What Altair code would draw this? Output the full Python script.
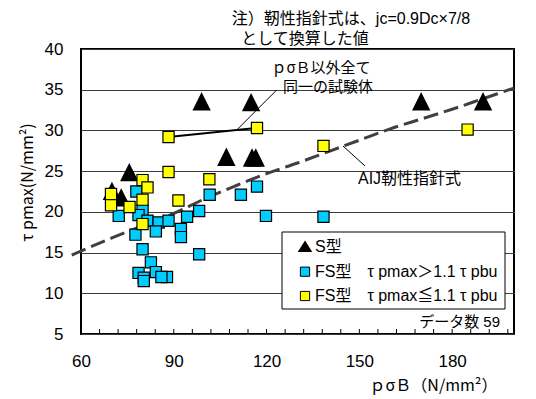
import altair as alt
import pandas as pd

FONT = "Liberation Sans, Noto Sans CJK JP"
FONT_J = "Noto Sans CJK JP, Liberation Sans"

# S型 specimens (black triangles)
s_x = [99.0, 115.0, 107.0, 115.3, 116.5, 170.0, 190.0, 75.6, 70.0, 73.0]
s_y = [33.5, 33.4, 26.7, 26.6, 26.6, 33.5, 33.5, 24.8, 22.5, 21.7]

# FS型, τpmax > 1.1 τpbu (blue squares)
fsb_x = [77.9, 79.9, 72.2, 78.6, 81.5, 85.1, 88.3, 94.3, 98.2, 77.6,
         84.2, 92.3, 92.3, 79.9, 98.2, 82.6, 78.6, 84.2, 80.3, 80.3,
         87.8, 86.0, 101.6, 111.7, 116.9, 138.4, 119.8]
fsb_y = [22.5, 20.2, 19.5, 19.6, 18.9, 18.7, 18.9, 19.4, 20.1, 17.2,
         17.6, 17.9, 16.9, 15.4, 14.8, 13.8, 12.5, 12.6, 11.9, 11.5,
         12.0, 12.0, 22.1, 22.1, 23.1, 19.4, 19.5]

# FS型, τpmax ≤ 1.1 τpbu (yellow squares)
fsy_x = [88.3, 116.9, 88.3, 101.5, 79.9, 81.5, 69.7, 69.7, 79.9, 75.7,
         79.9, 91.5, 138.4, 185.0]
fsy_y = [29.2, 30.3, 24.9, 24.0, 23.9, 23.0, 22.2, 20.8, 21.5, 20.6,
         18.5, 21.4, 28.1, 30.1]

# identical specimens except pσB
pair_x = [88.3, 116.9]
pair_y = [29.2, 30.3]

# AIJ 靭性指針式 curve
aij_x = [57, 70, 80, 90, 100, 110, 120, 130, 140, 150, 160, 170, 180, 190, 200]
aij_y = [14.7, 16.8, 18.3, 19.8, 21.6, 23.2, 24.7, 26.0, 27.4, 28.8, 30.2,
         31.4, 32.6, 33.9, 35.2]

x_labels = [60, 90, 120, 150, 180]
y_labels = [5, 10, 15, 20, 25, 30, 35, 40]
minor_ticks = list(range(66, 200, 6))

legend_labels = ["S型", "FS型　τ pmax＞1.1 τ pbu", "FS型　τ pmax≦1.1 τ pbu"]
note_lines = ["注）靭性指針式は、jc=0.9Dc×7/8", "として換算した値"]
pair_note = ["ｐσＢ以外全て", "同一の試験体"]
aij_note = "AIJ靭性指針式"
count_note = "データ数 59"

W, H = 433, 285
BLUE = "#00CCFF"
YELLOW = "#FFFF00"
TRI = "M0,-1L1,1L-1,1Z"
TRI_SMALL = "M0,-0.8L1,0.8L-1,0.8Z"

X = alt.X("x:Q", scale=alt.Scale(domain=[60, 200], nice=False, zero=False),
          axis=alt.Axis(values=x_labels, grid=False, ticks=False, domain=False,
                        labelFontSize=17, labelFont=FONT, labelColor="black",
                        labelPadding=19, labelFlush=False, labelOverlap=False,
                        title="ｐσＢ（N/mm²）", titleFont=FONT_J, titleFontSize=16,
                        titleFontWeight="normal", titleColor="black",
                        titleX=352, titleY=51, titleAlign="center",
                        titleBaseline="middle"))
Y = alt.Y("y:Q", scale=alt.Scale(domain=[5, 40], nice=False, zero=False),
          axis=alt.Axis(values=y_labels, grid=True, gridColor="#3c3c3c",
                        gridWidth=1, ticks=False, domain=False,
                        labelFontSize=17, labelFont=FONT, labelColor="black",
                        labelPadding=18, labelFlush=False, labelOverlap=False,
                        title="τ pmax(N/mm²)", titleFont=FONT_J, titleFontSize=16,
                        titleFontWeight="normal", titleColor="black",
                        titleX=-54, titleY=133, titleAngle=270,
                        titleAlign="center", titleBaseline="middle"))

def frame(xs, ys):
    return pd.DataFrame({"x": xs, "y": ys})

one = alt.Data(values=[{}])

aij = alt.Chart(frame(aij_x, aij_y)).mark_line(
    color="#404040", strokeWidth=3, strokeDash=[15, 6], interpolate="monotone",
    clip=False
).encode(x=X, y=Y, order="x:Q")

pair = alt.Chart(frame(pair_x, pair_y)).mark_line(
    color="black", strokeWidth=2
).encode(x=X, y=Y)

tri = alt.Chart(frame(s_x, s_y)).mark_point(
    shape=TRI, filled=True, fill="black", stroke="black", size=230, opacity=1
).encode(x=X, y=Y)

blue = alt.Chart(frame(fsb_x, fsb_y)).mark_point(
    shape="square", filled=True, fill=BLUE, stroke="black", strokeWidth=1.2,
    size=125, opacity=1
).encode(x=X, y=Y)

yellow = alt.Chart(frame(fsy_x, fsy_y)).mark_point(
    shape="square", filled=True, fill=YELLOW, stroke="black", strokeWidth=1.2,
    size=125, opacity=1
).encode(x=X, y=Y)

ticks = alt.Chart(pd.DataFrame({"x": minor_ticks})).mark_rule(
    color="black", strokeWidth=1
).encode(x=X, y=alt.value(H), y2=alt.value(H - 5))

def leader(x1, y1, x2, y2, width=1):
    return alt.Chart(one).mark_rule(color="black", strokeWidth=width).encode(
        x=alt.value(x1), y=alt.value(y1), x2=alt.value(x2), y2=alt.value(y2))

def label(txt, x, y, align="left", size=16, font=FONT):
    return alt.Chart(one).mark_text(
        text=txt, font=font, fontSize=size, color="black", align=align,
        baseline="middle"
    ).encode(x=alt.value(x), y=alt.value(y))

# legend box with its three entries
legend_box = alt.Chart(one).mark_rect(
    fill="white", stroke="black", strokeWidth=1
).encode(x=alt.value(201), x2=alt.value(424), y=alt.value(183), y2=alt.value(260))

row_y = [197.7, 222.7, 247.0]
leg_tri = alt.Chart(one).mark_point(
    shape=TRI_SMALL, filled=True, fill="black", stroke="black", size=121, opacity=1
).encode(x=alt.value(224), y=alt.value(row_y[0]))
leg_blue = alt.Chart(one).mark_point(
    shape="square", filled=True, fill=BLUE, stroke="black", strokeWidth=1,
    size=85, opacity=1
).encode(x=alt.value(224), y=alt.value(row_y[1]))
leg_yellow = alt.Chart(one).mark_point(
    shape="square", filled=True, fill=YELLOW, stroke="black", strokeWidth=1,
    size=85, opacity=1
).encode(x=alt.value(224), y=alt.value(row_y[2]))
leg_text = [label(t, 234, yy) for t, yy in zip(legend_labels, row_y)]

layers = [
    aij, pair, tri, blue, yellow, ticks,
    leader(155.7, 81, 195.7, 41), leader(262, 97, 284, 117),
    label(pair_note[0], 240, 19, align="center", size=15, font=FONT_J),
    label(pair_note[1], 247, 38, align="center", size=15, font=FONT_J),
    label(aij_note, 277, 130),
    label(note_lines[0], 270, -30, align="center"),
    label(note_lines[1], 224, -10, align="center"),
    legend_box, leg_tri, leg_blue, leg_yellow, *leg_text,
    label(count_note, 419, 273, align="right", size=15),
]

chart = alt.layer(*layers).properties(
    width=W, height=H,
    autosize=alt.AutoSizeParams(type="none"),
    padding={"left": 81, "top": 49, "right": 22, "bottom": 65},
    background="white",
).configure_view(stroke="black", strokeWidth=2)

chart.save("out.html", embed_options={"renderer": "svg", "actions": False})
